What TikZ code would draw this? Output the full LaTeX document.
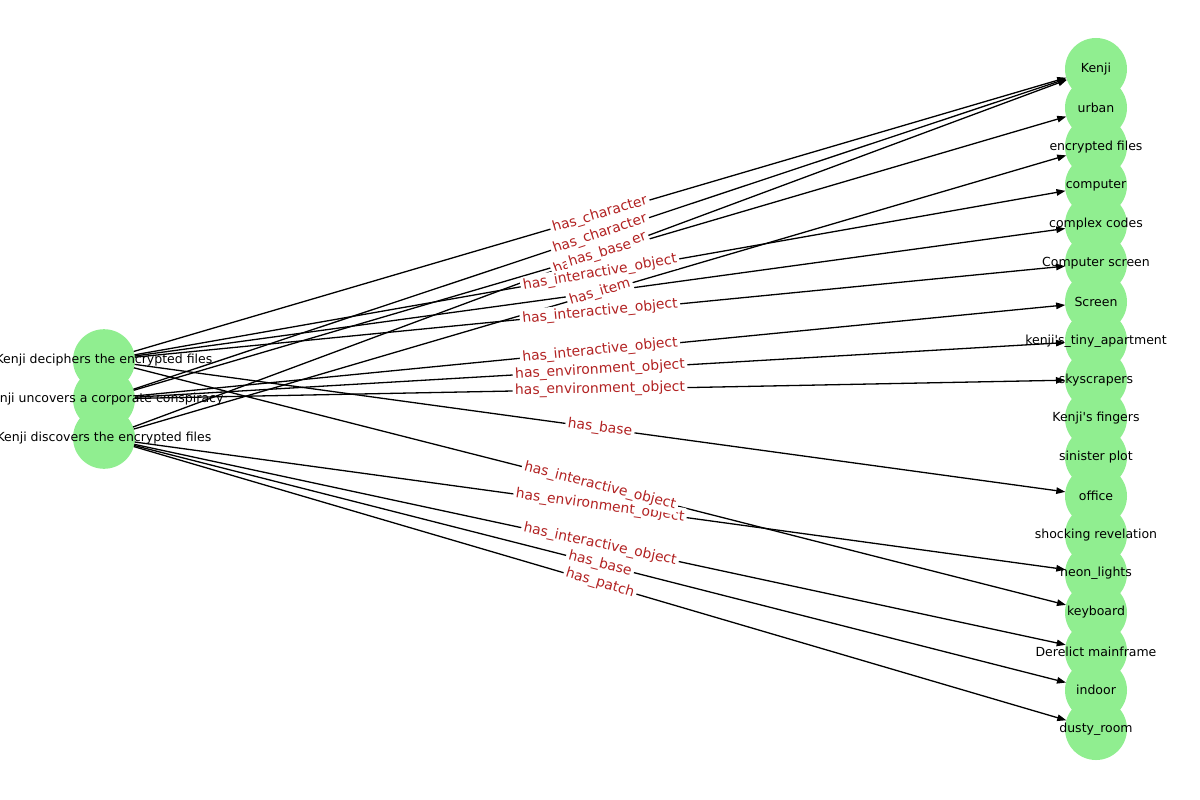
\documentclass[tikz,border=0pt]{standalone}
\usepackage{fontspec}
\setmainfont{DejaVu Sans}
\usetikzlibrary{arrows.meta}
\definecolor{nodegreen}{HTML}{90EE90}
\definecolor{elabred}{HTML}{B22222}
\begin{document}
\begin{tikzpicture}[x=1pt,y=-1pt,
  vnode/.style={circle, fill=nodegreen, minimum size=62pt, inner sep=0pt, outer sep=0pt},
  vtext/.style={font=\fontsize{12.5}{14}\selectfont, text=black, inner sep=0pt},
  conn/.style={draw=black, line width=1.3pt, -{Triangle[length=9pt,width=6.5pt]}},
  elabel/.style={font=\fontsize{13.9}{16}\selectfont, text=elabred, fill=white, rounded corners=3pt, inner sep=2.5pt, sloped, midway}]
\useasboundingbox (0,0) rectangle (1200,800);
% left nodes
\node[vnode] (L1) at (104,360.2) {};
\node[vnode] (L2) at (104,399) {};
\node[vnode] (L3) at (104,437.8) {};
% right nodes
\foreach \i in {0,...,17} {
  \node[vnode] (r\i) at (1096,{69+38.824*\i}) {};
}
% edges
\draw[conn] (L1) -- (r0);
\draw[conn] (L2) -- (r0);
\draw[conn] (L3) -- (r0);
\draw[conn] (L2) -- (r1);
\draw[conn] (L3) -- (r2);
\draw[conn] (L1) -- (r3);
\draw[conn] (L1) -- (r4);
\draw[conn] (L1) -- (r5);
\draw[conn] (L2) -- (r6);
\draw[conn] (L2) -- (r7);
\draw[conn] (L2) -- (r8);
\draw[conn] (L1) -- (r11);
\draw[conn] (L3) -- (r13);
\draw[conn] (L1) -- (r14);
\draw[conn] (L3) -- (r15);
\draw[conn] (L3) -- (r16);
\draw[conn] (L3) -- (r17);
% node texts
\node[vtext] at (L1) {Kenji deciphers the encrypted files};
\node[vtext] at (L2) {Kenji uncovers a corporate conspiracy};
\node[vtext] at (L3) {Kenji discovers the encrypted files};
\node[vtext] at (r0) {Kenji};
\node[vtext] at (r1) {urban};
\node[vtext] at (r2) {encrypted files};
\node[vtext] at (r3) {computer};
\node[vtext] at (r4) {complex codes};
\node[vtext] at (r5) {Computer screen};
\node[vtext] at (r6) {Screen};
\node[vtext] at (r7) {kenji\textquotesingle s\_tiny\_apartment};
\node[vtext] at (r8) {skyscrapers};
\node[vtext] at (r9) {Kenji\textquotesingle s fingers};
\node[vtext] at (r10) {sinister plot};
\node[vtext] at (r11) {office};
\node[vtext] at (r12) {shocking revelation};
\node[vtext] at (r13) {neon\_lights};
\node[vtext] at (r14) {keyboard};
\node[vtext] at (r15) {Derelict mainframe};
\node[vtext] at (r16) {indoor};
\node[vtext] at (r17) {dusty\_room};
% edge labels
\path (L1) -- (r0) node[elabel] {has\_character};
\path (L2) -- (r0) node[elabel] {has\_character};
\path (L3) -- (r0) node[elabel] {has\_character};
\path (L2) -- (r1) node[elabel] {has\_base};
\path (L1) -- (r3) node[elabel] {has\_interactive\_object};
\path (L3) -- (r2) node[elabel] {has\_item};
\path (L1) -- (r5) node[elabel] {has\_interactive\_object};
\path (L2) -- (r6) node[elabel] {has\_interactive\_object};
\path (L2) -- (r7) node[elabel] {has\_environment\_object};
\path (L2) -- (r8) node[elabel] {has\_environment\_object};
\path (L1) -- (r11) node[elabel] {has\_base};
\path (L3) -- (r13) node[elabel] {has\_environment\_object};
\path (L1) -- (r14) node[elabel] {has\_interactive\_object};
\path (L3) -- (r15) node[elabel] {has\_interactive\_object};
\path (L3) -- (r16) node[elabel] {has\_base};
\path (L3) -- (r17) node[elabel] {has\_patch};
\end{tikzpicture}
\end{document}
